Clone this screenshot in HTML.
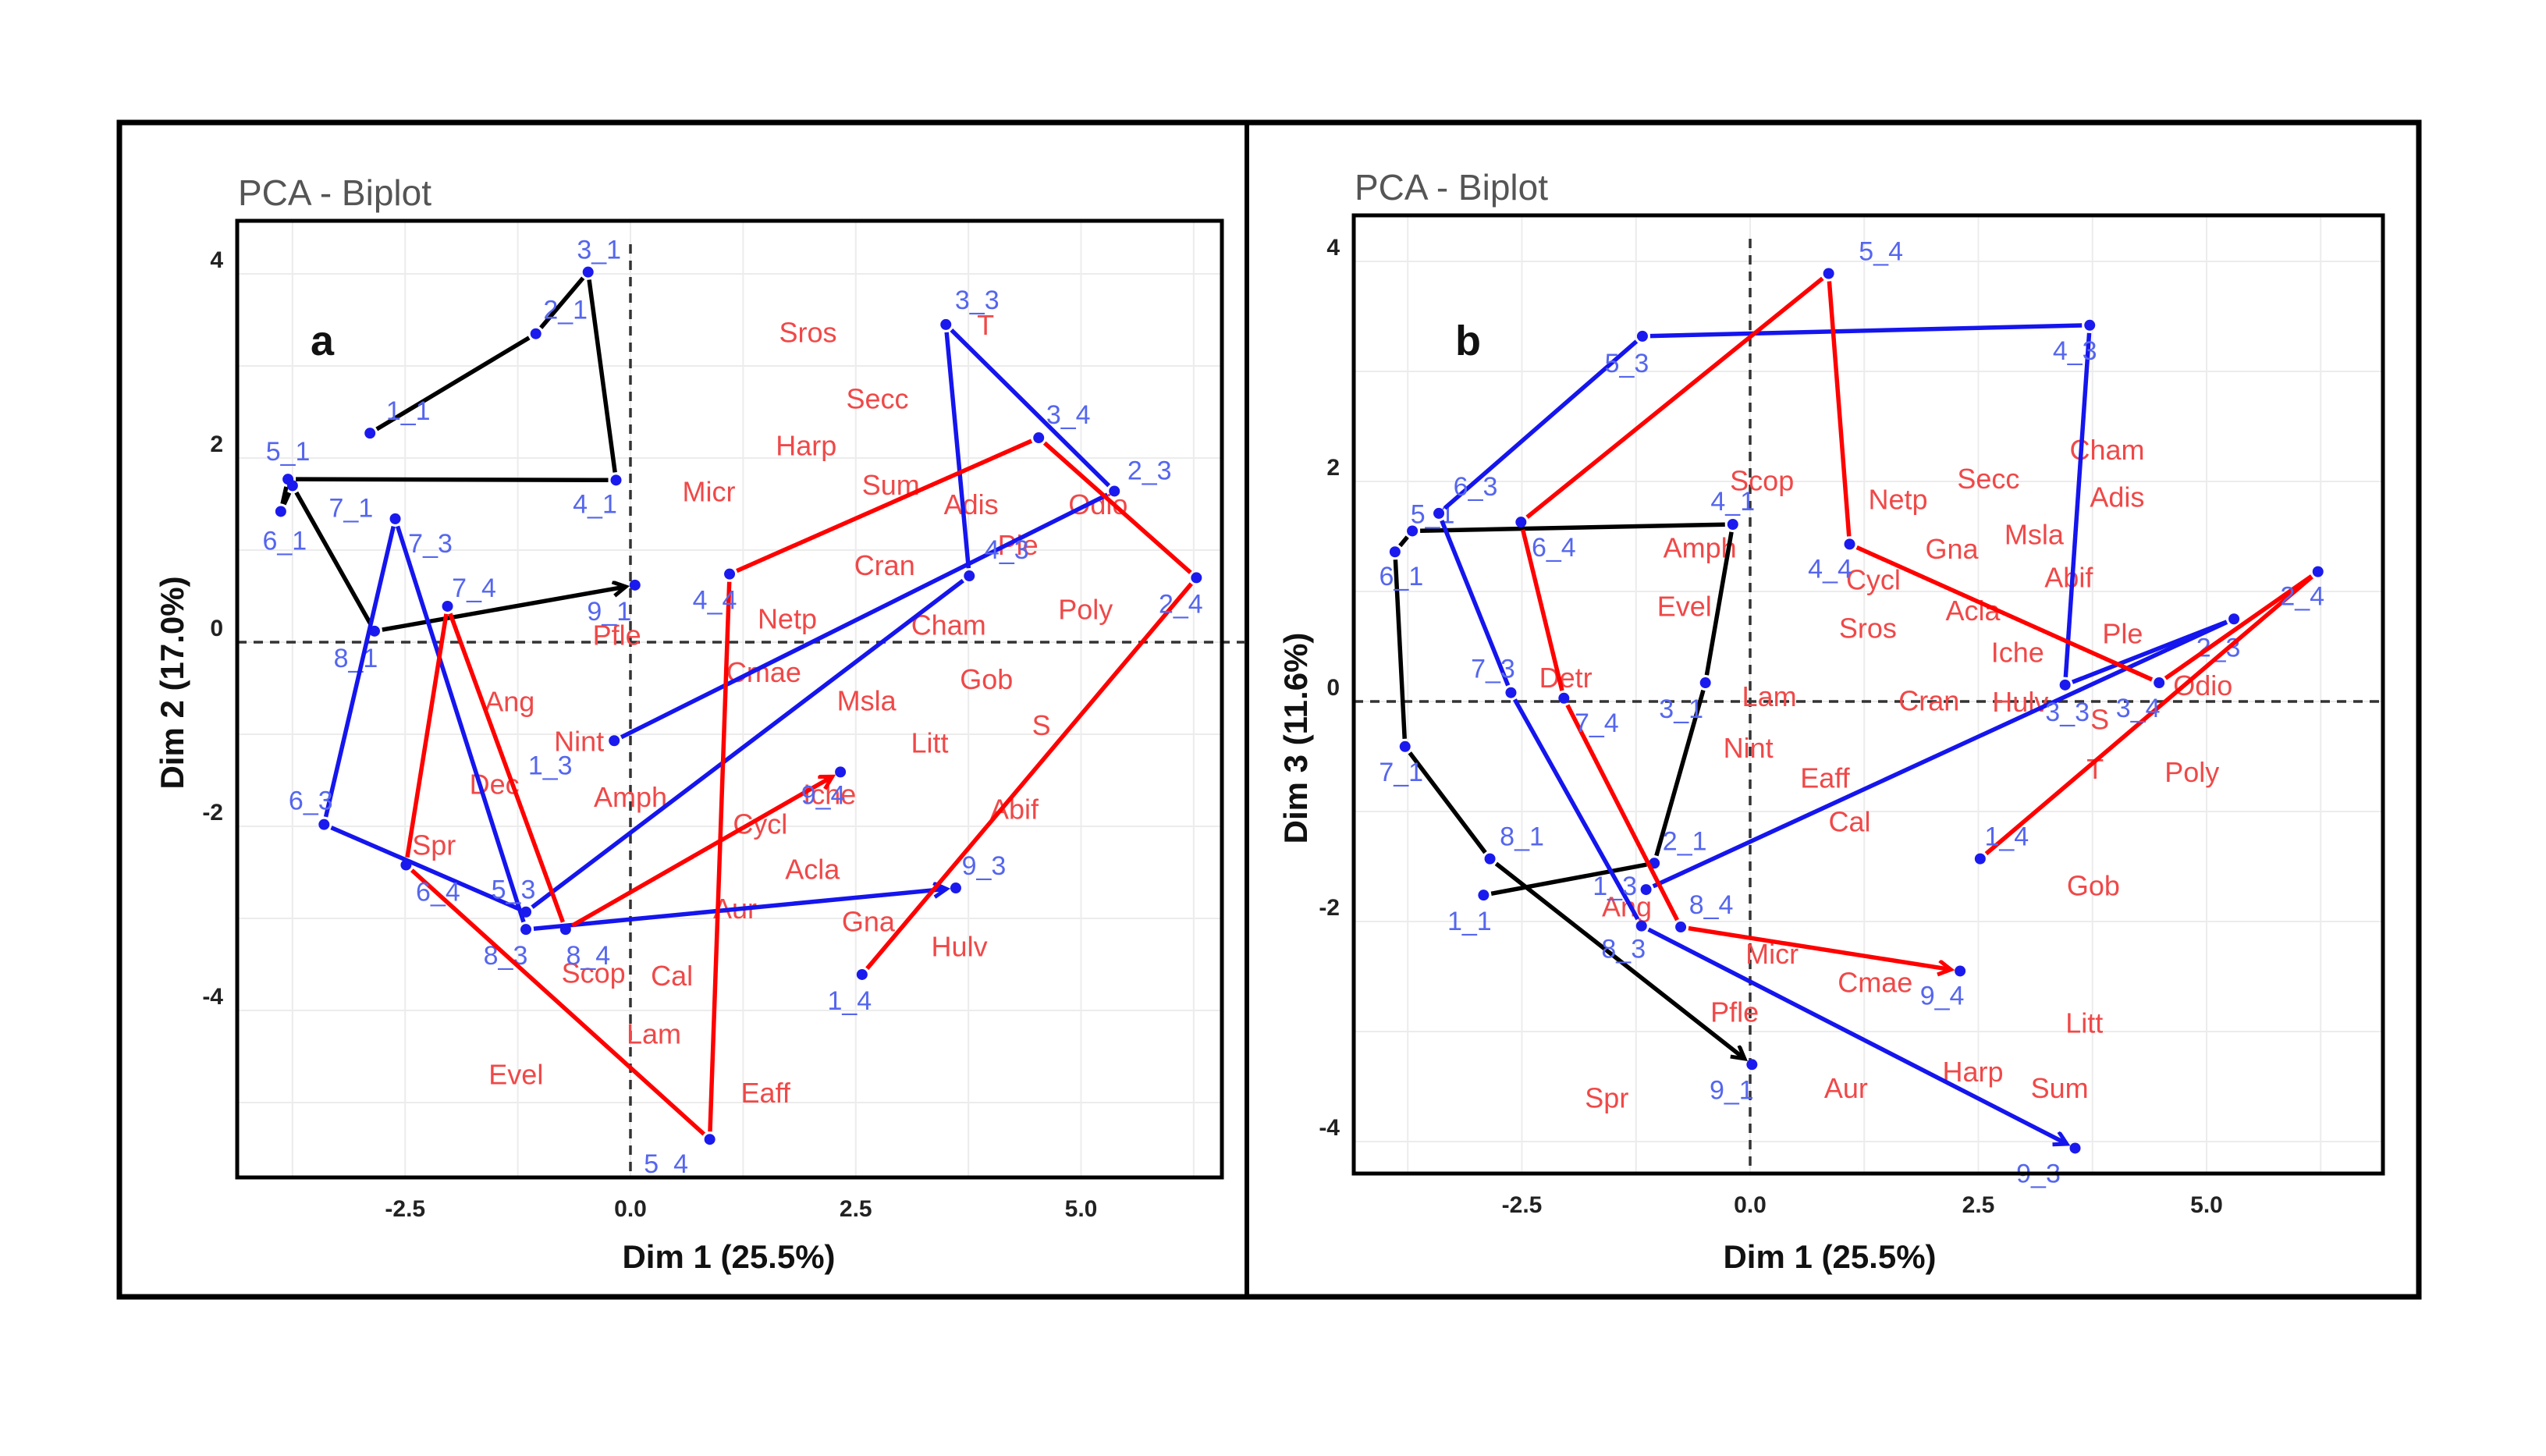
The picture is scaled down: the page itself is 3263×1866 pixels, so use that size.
<!DOCTYPE html>
<html><head><meta charset="utf-8"><title>PCA Biplot</title>
<style>
html,body{margin:0;padding:0;background:#fff;}
svg{display:block;}
text{font-family:"Liberation Sans","DejaVu Sans",sans-serif;}
</style></head>
<body>
<svg id="fig" width="3263" height="1866" viewBox="0 0 3263 1866" xmlns="http://www.w3.org/2000/svg">
<defs>
<marker id="arrBlack" markerUnits="userSpaceOnUse" markerWidth="30" markerHeight="30" refX="18" refY="10" orient="auto"><path d="M2,1 L18,10 L2,19" fill="none" stroke="#000" stroke-width="5"/></marker>
<marker id="arrBlue" markerUnits="userSpaceOnUse" markerWidth="30" markerHeight="30" refX="18" refY="10" orient="auto"><path d="M2,1 L18,10 L2,19" fill="none" stroke="#1515ee" stroke-width="5"/></marker>
<marker id="arrRed" markerUnits="userSpaceOnUse" markerWidth="30" markerHeight="30" refX="18" refY="10" orient="auto"><path d="M2,1 L18,10 L2,19" fill="none" stroke="#f00" stroke-width="5"/></marker>
</defs>
<rect x="153" y="157" width="2947" height="1505" fill="none" stroke="#000" stroke-width="7"/>
<line x1="1598" y1="157" x2="1598" y2="1662" stroke="#000" stroke-width="6"/>
<g id="panelA"></g>
<g id="panelB"></g>
</svg>
<script>
// ---- shared categories ----
var sampleIds = ["1","2","3","4","5","6","7","8","9"];
var groupSuffix = ["1","3","4"];

// ---- Panel A data (Dim1 vs Dim2) ----
var a_g1_x = [-2.89,-1.05,-0.47,-0.16,-3.80,-3.88,-3.75,-2.84,0.05];
var a_g1_y = [2.27,3.35,4.02,1.76,1.77,1.42,1.70,0.12,0.62];
var a_g3_x = [-0.18,5.37,3.50,3.76,-1.16,-3.40,-2.61,-1.16,3.61];
var a_g3_y = [-1.07,1.64,3.45,0.72,-2.93,-1.98,1.34,-3.12,-2.67];
var a_g4_x = [2.57,6.28,4.53,1.10,0.88,-2.49,-2.03,-0.72,2.33];
var a_g4_y = [-3.61,0.70,2.22,0.74,-5.40,-2.42,0.39,-3.12,-1.41];
var a_species = ["Sros","Secc","Harp","Micr","Sum","Adis","Odio","Ple","Cran","Poly","Netp","Cham","Pfle","Cmae","Gob","Ang","Msla","Litt","Nint","S","Dec","Amph","Iche","Cycl","Abif","Spr","Acla","Aur","Gna","Hulv","Scop","Cal","Lam","Evel","Eaff","T"];
var a_species_x = [1.97,2.74,1.95,0.87,2.89,3.78,5.19,4.30,2.82,5.05,1.74,3.53,-0.15,1.48,3.95,-1.34,2.62,3.32,-0.57,4.56,-1.51,0.0,2.21,1.44,4.26,-2.18,2.02,1.16,2.64,3.65,-0.41,0.46,0.26,-1.27,1.50,3.94];
var a_species_y = [3.37,2.65,2.14,1.64,1.71,1.50,1.50,1.06,0.84,0.36,0.26,0.19,0.08,-0.32,-0.40,-0.64,-0.63,-1.09,-1.07,-0.90,-1.54,-1.68,-1.65,-1.97,-1.81,-2.20,-2.46,-2.89,-3.03,-3.30,-3.59,-3.62,-4.25,-4.69,-4.89,3.45];
var a_xticks = [-2.5,0.0,2.5,5.0];
var a_xtickLabels = ["-2.5","0.0","2.5","5.0"];
var a_yticks = [4,2,0,-2,-4];
var a_ytickLabels = ["4","2","0","-2","-4"];

// ---- Panel B data (Dim1 vs Dim3) ----
var b_g1_x = [-2.92,-1.05,-0.49,-0.19,-3.70,-3.89,-3.78,-2.85,0.02];
var b_g1_y = [-1.76,-1.47,0.17,1.61,1.55,1.36,-0.41,-1.43,-3.30];
var b_g3_x = [-1.14,5.30,3.45,3.72,-1.18,-3.41,-2.62,-1.19,3.56];
var b_g3_y = [-1.71,0.75,0.15,3.42,3.32,1.71,0.08,-2.04,-4.06];
var b_g4_x = [2.52,6.22,4.48,1.09,0.86,-2.51,-2.04,-0.76,2.30];
var b_g4_y = [-1.43,1.18,0.17,1.43,3.89,1.63,0.03,-2.05,-2.45];
var b_species = ["Cham","Secc","Scop","Adis","Netp","Msla","Gna","Amph","Cycl","Abif","Evel","Acla","Sros","Ple","Iche","Detr","Odio","Lam","Cran","Hulv","S","Nint","T","Poly","Eaff","Cal","Gob","Ang","Micr","Cmae","Pfle","Litt","Harp","Sum","Aur","Spr"];
var b_species_x = [3.91,2.61,0.13,4.02,1.62,3.11,2.21,-0.55,1.35,3.49,-0.72,2.44,1.29,4.08,2.93,-2.02,4.96,0.21,1.96,2.96,3.83,-0.02,3.78,4.84,0.82,1.09,3.76,-1.35,0.24,1.37,-0.17,3.66,2.44,3.39,1.05,-1.57];
var b_species_y = [2.29,2.03,2.01,1.86,1.84,1.52,1.39,1.40,1.11,1.13,0.87,0.83,0.67,0.62,0.45,0.22,0.15,0.05,0.01,0.0,-0.16,-0.42,-0.61,-0.64,-0.69,-1.09,-1.67,-1.86,-2.29,-2.55,-2.82,-2.92,-3.36,-3.51,-3.51,-3.60];
var b_xticks = [-2.5,0.0,2.5,5.0];
var b_xtickLabels = ["-2.5","0.0","2.5","5.0"];
var b_yticks = [4,2,0,-2,-4];
var b_ytickLabels = ["4","2","0","-2","-4"];

// ---- layout (pixel label offsets, not data) ----
var a_lblOff = {
 g1:[[49,-29],[38,-31],[14,-29],[-27,30],[0,-36],[5,37],[75,28],[-24,34],[-33,33]],
 g3:[[-82,31],[45,-27],[40,-32],[48,-34],[-16,-29],[-17,-31],[45,31],[-26,33],[36,-29]],
 g4:[[-16,33],[-20,33],[38,-30],[-19,33],[-56,31],[41,34],[34,-24],[29,33],[-22,29]]
};
var b_lblOff = {
 g1:[[-18,33],[39,-29],[-31,33],[0,-30],[26,-22],[8,31],[-5,32],[41,-29],[-26,32]],
 g3:[[-40,-5],[-20,36],[3,34],[-19,32],[-20,34],[47,-35],[-23,-31],[-23,29],[-47,32]],
 g4:[[34,-29],[-20,31],[-27,32],[-25,31],[67,-29],[42,32],[42,31],[39,-29],[-23,31]]
};

var NS = "http://www.w3.org/2000/svg";
function mk(parent, tag, attrs){
  var e = document.createElementNS(NS, tag);
  for (var k in attrs) e.setAttribute(k, attrs[k]);
  parent.appendChild(e);
  return e;
}

function drawPanel(g, P){
  var sx = function(v){ return P.x0 + v*P.ux; };
  var sy = function(v){ return P.y0 - v*P.uy; };
  var t = mk(g,"text",{x:P.left+1,y:P.top-20,"font-size":46,fill:"#555"});
  t.textContent = "PCA - Biplot";
  
  
  var gx;
  for (gx=-3.75; gx<=6.3; gx+=1.25){
    var X = sx(gx); if (X<P.left||X>P.right) continue;
    var gl = mk(g,"line",{x1:X,y1:P.top,x2:X,y2:P.bottom,stroke:"#ececec","stroke-width":2});
    
    
  }
  for (var gy=-5; gy<=5; gy+=1){
    var Y = sy(gy); if (Y<P.top||Y>P.bottom) continue;
    var gl2 = mk(g,"line",{x1:P.left,y1:Y,x2:P.right,y2:Y,stroke:"#ececec","stroke-width":2});
    
    
  }
  var zx = mk(g,"line",{x1:sx(0),y1:P.top+30,x2:sx(0),y2:P.bottom,stroke:"#333","stroke-width":3.5,"stroke-dasharray":"12,9"});
  
  
  var zy = mk(g,"line",{x1:P.left,y1:sy(0),x2:P.right+(P.zeroExt||0),y2:sy(0),stroke:"#333","stroke-width":3.5,"stroke-dasharray":"12,9"});
  
  
  for (var i=0;i<P.sp.length;i++){
    var st = mk(g,"text",{x:sx(P.spx[i]),y:sy(P.spy[i])+13,"font-size":36,fill:"#f04848","text-anchor":"middle"});
    st.textContent = P.sp[i];
    
    
  }
  var groups = [
    {xs:P.g1x, ys:P.g1y, col:"#000", mk:"url(#arrBlack)", off:P.off.g1, suf:"1"},
    {xs:P.g3x, ys:P.g3y, col:"#1515ee", mk:"url(#arrBlue)", off:P.off.g3, suf:"3"},
    {xs:P.g4x, ys:P.g4y, col:"#f00", mk:"url(#arrRed)", off:P.off.g4, suf:"4"}
  ];
  groups.forEach(function(G){
    for (var j=0;j<G.xs.length-1;j++){
      var x1=sx(G.xs[j]), y1=sy(G.ys[j]), x2=sx(G.xs[j+1]), y2=sy(G.ys[j+1]);
      var dx=x2-x1, dy=y2-y1, L=Math.sqrt(dx*dx+dy*dy)||1;
      var s0 = 10/L, s1 = (j===G.xs.length-2) ? 12/L : 10/L;
      var ln = mk(g,"line",{x1:x1+dx*s0,y1:y1+dy*s0,x2:x2-dx*s1,y2:y2-dy*s1,stroke:G.col,"stroke-width":5.5});
      if (j===G.xs.length-2) ln.setAttribute("marker-end", G.mk);
      
      
    }
    for (var k=0;k<G.xs.length;k++){
      var X=sx(G.xs[k]), Y=sy(G.ys[k]);
      var c = mk(g,"circle",{cx:X,cy:Y,r:7,fill:"#1a1aee"});
      
      
      var lt = mk(g,"text",{x:X+G.off[k][0],y:Y+G.off[k][1]+12,"font-size":34,fill:"#5566ee","text-anchor":"middle"});
      lt.textContent = sampleIds[k] + "_" + G.suf;
      
      
    }
  });
  var bd = mk(g,"rect",{x:P.left,y:P.top,width:P.right-P.left,height:P.bottom-P.top,fill:"none",stroke:"#000","stroke-width":5});
  
  
  for (var a=0;a<P.xt.length;a++){
    var tx = mk(g,"text",{x:sx(P.xt[a]),y:P.bottom+50,"font-size":30,"font-weight":"bold",fill:"#222","text-anchor":"middle"});
    tx.textContent = P.xtl[a];
    
    
  }
  for (var b=0;b<P.yt.length;b++){
    var ty = mk(g,"text",{x:P.left-18,y:sy(P.yt[b])-8,"font-size":30,"font-weight":"bold",fill:"#222","text-anchor":"end"});
    ty.textContent = P.ytl[b];
    
    
  }
  var xtt = mk(g,"text",{x:P.xTitleX,y:1625,"font-size":42,"font-weight":"bold",fill:"#111","text-anchor":"middle"});
  xtt.textContent = P.xTitle;
  
  
  var ytt = mk(g,"text",{x:0,y:0,"font-size":42,"font-weight":"bold",fill:"#111","text-anchor":"middle",transform:"translate("+P.yTitleX+","+P.yTitleY+") rotate(-90)"});
  ytt.textContent = P.yTitle;
  
  
  var pl = mk(g,"text",{x:P.letterX,y:P.letterY,"font-size":54,"font-weight":"bold",fill:"#111"});
  pl.textContent = P.letter;
  
  
}

drawPanel(document.getElementById("panelA"), {
  left:304, right:1566, top:283, bottom:1509, x0:808, ux:115.5, y0:823, uy:118, zeroExt:30,
  g1x:a_g1_x, g1y:a_g1_y, g3x:a_g3_x, g3y:a_g3_y, g4x:a_g4_x, g4y:a_g4_y,
  sp:a_species, spx:a_species_x, spy:a_species_y, off:a_lblOff,
  xt:a_xticks, xtl:a_xtickLabels, yt:a_yticks, ytl:a_ytickLabels,
  xTitle:"Dim 1 (25.5%)", xTitleX:934, yTitle:"Dim 2 (17.0%)", yTitleX:235, yTitleY:875,
  letter:"a", letterX:398, letterY:455
});
drawPanel(document.getElementById("panelB"), {
  left:1735, right:3054, top:276, bottom:1504, x0:2243, ux:117, y0:899, uy:141, zeroExt:0,
  g1x:b_g1_x, g1y:b_g1_y, g3x:b_g3_x, g3y:b_g3_y, g4x:b_g4_x, g4y:b_g4_y,
  sp:b_species, spx:b_species_x, spy:b_species_y, off:b_lblOff,
  xt:b_xticks, xtl:b_xtickLabels, yt:b_yticks, ytl:b_ytickLabels,
  xTitle:"Dim 1 (25.5%)", xTitleX:2345, yTitle:"Dim 3 (11.6%)", yTitleX:1675, yTitleY:946,
  letter:"b", letterX:1865, letterY:455
});
</script>
</body></html>
